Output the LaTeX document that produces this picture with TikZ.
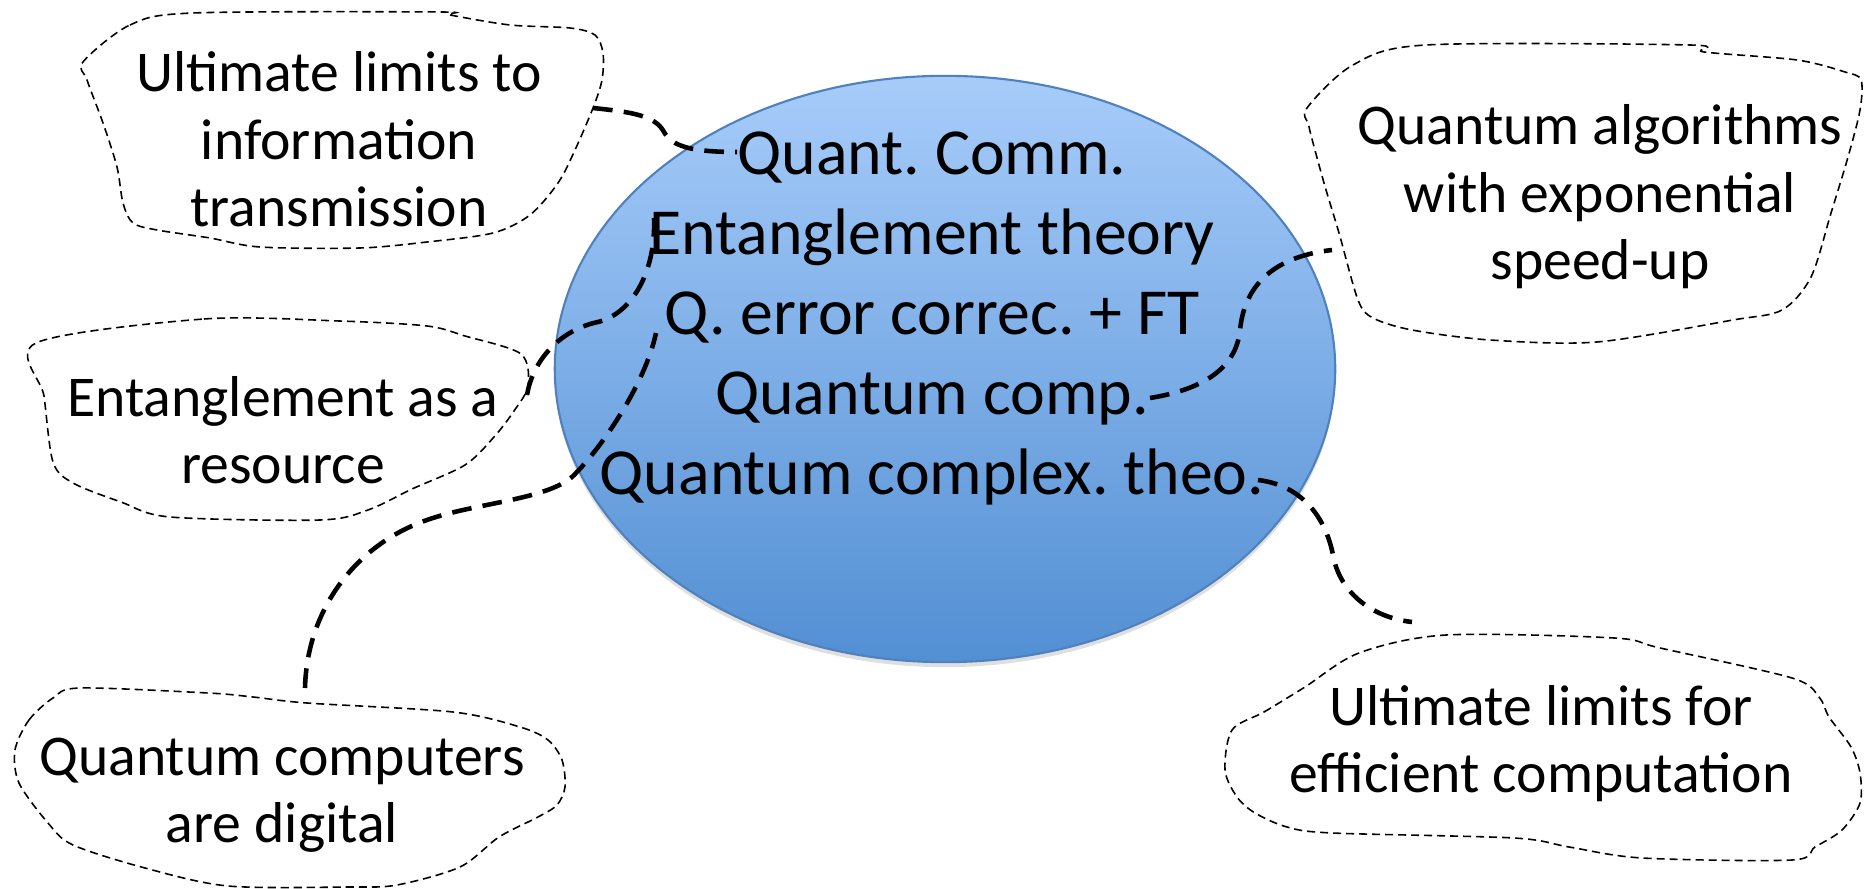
\documentclass[tikz,border=0pt]{standalone}
\usepackage{fontspec}
\setmainfont{Carlito}
\usetikzlibrary{shapes.geometric,shadows}
\definecolor{ellTop}{RGB}{167,204,250}
\definecolor{ellBot}{RGB}{82,143,211}
\definecolor{ellLine}{RGB}{79,129,189}
\tikzset{
  cloudline/.style={draw=black, line width=0.45pt, dash pattern=on 2.3pt off 1.4pt},
  conn/.style={draw=black, line width=1.3pt, dash pattern=on 5.6pt off 3.2pt},
  cloudtext/.style={font=\fontsize{16.4pt}{19.3pt}\selectfont\frenchspacing, align=center, inner sep=0pt, anchor=base},
  coretext/.style={font=\fontsize{18.7pt}{22.8pt}\selectfont\frenchspacing, align=center, inner sep=0pt, anchor=base},
  coreshape/.style={ellipse, draw=ellLine, line width=0.6pt, top color=ellTop, bottom color=ellBot,
    minimum width=7.8cm, minimum height=5.86cm, inner sep=0pt,
    drop shadow={opacity=0.25, shadow xshift=0pt, shadow yshift=-0.05cm}},
}
\begin{document}
\frenchspacing
\begin{tikzpicture}[x=0.01cm,y=-0.01cm]
\useasboundingbox (0,0) rectangle (1864,889);

% central ellipse
\node[coreshape] (core) at (945,369) {};
\node[coretext] (coretxt) at (932,495) {Quant. Comm.\\Entanglement theory\\Q. error correc. + FT\\Quantum comp.\\Quantum complex. theo.};

% clouds
\draw[cloudline] plot[smooth cycle, tension=0.5] coordinates {
 (83,62) (130,25) (193,13) (440,12) (450,15) (510,25) (570,28) (595,35) (603,53) (602,80)
 (593,108) (575,150) (558,183) (530,215) (493,233) (427,242) (360,248) (260,247) (210,238)
 (157,230) (133,223) (123,203) (117,167) (103,123) (87,80)};
\node[cloudtext] (t1) at (339,227) {Ultimate limits to\\information\\transmission};

\draw[cloudline] plot[smooth cycle, tension=0.5] coordinates {
 (36,343) (204,319) (339,321) (427,326) (465,336) (521,354) (528,386) (514,411) (494,437)
 (465,465) (412,489) (368,510) (320,520) (170,517) (121,502) (73,483) (53,462) (44,396)};
\node[cloudtext] (t2) at (283,484) {Entanglement as a\\resource};

\draw[cloudline] plot[smooth cycle, tension=0.5] coordinates {
 (15,750) (29,720) (53,698) (80,688) (208,693) (253,697) (307,703) (453,712) (520,727)
 (548,740) (562,760) (565,787) (557,805) (538,817) (499,837) (460,867) (397,885) (349,887)
 (228,886) (145,868) (73,845) (48,823) (19,783)};
\node[cloudtext] (t3) at (282,843) {Quantum computers\\are digital};

\draw[cloudline] plot[smooth cycle, tension=0.5] coordinates {
 (1307,108) (1353,65) (1426,45) (1690,45) (1704,52) (1797,60) (1845,72) (1861,80) (1860,110)
 (1848,157) (1831,213) (1811,277) (1782,310) (1733,320) (1597,342) (1490,340) (1412,330)
 (1373,318) (1358,300) (1339,233) (1324,183) (1309,127)};
\node[cloudtext] (t4) at (1600,280) {Quantum algorithms\\with exponential\\speed-up};

\draw[cloudline] plot[smooth cycle, tension=0.5] coordinates {
 (1232,730) (1264,712) (1305,687) (1359,653) (1446,635) (1614,638) (1660,648) (1792,678)
 (1819,697) (1829,717) (1851,747) (1860,773) (1860,803) (1842,830) (1815,847) (1792,860)
 (1642,858) (1569,847) (1514,838) (1332,833) (1287,827) (1255,813) (1237,797) (1225,770)};
\node[cloudtext] (t5) at (1541,793) {Ultimate limits for\\efficient computation};

% connector end points
\coordinate (a1) at (593,108);  \coordinate (b1) at (737,152);
\coordinate (a2) at (527,395);  \coordinate (b2) at (654,218);
\coordinate (a3) at (305,688);  \coordinate (b3) at (656,333);
\coordinate (a4) at (1332,250); \coordinate (b4) at (1150,398);
\coordinate (a5) at (1412,622); \coordinate (b5) at (1258,480);

% connectors
\draw[conn] (a1) .. controls (630,112) and (655,115) .. (664,132)
                 .. controls (672,146) and (690,152) .. (b1);
\draw[conn] (a2) .. controls (533,360) and (560,330) .. (598,322)
                 .. controls (630,314) and (656,275) .. (b2);
\draw[conn] (a3) .. controls (307,610) and (355,545) .. (427,520)
                 .. controls (475,503) and (545,500) .. (572,477)
                 .. controls (600,450) and (645,385) .. (b3);
\draw[conn] (b4) .. controls (1200,390) and (1236,370) .. (1240,330)
                 .. controls (1245,280) and (1280,256) .. (a4);
\draw[conn] (b5) .. controls (1300,485) and (1325,515) .. (1333,555)
                 .. controls (1340,595) and (1375,618) .. (a5);
\end{tikzpicture}
\end{document}
